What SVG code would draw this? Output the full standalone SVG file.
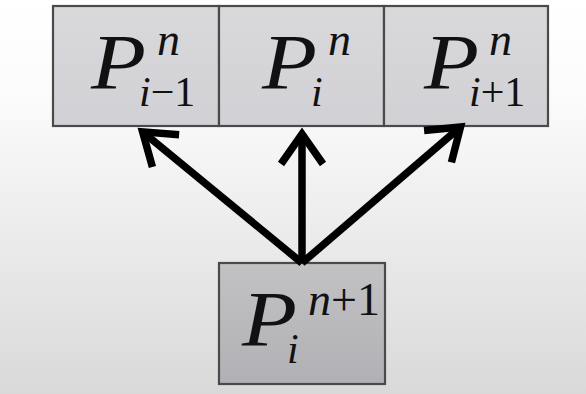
<svg xmlns="http://www.w3.org/2000/svg" width="586" height="394" viewBox="0 0 586 394">
  <defs>
    <linearGradient id="bg" x1="0" y1="0" x2="0" y2="1">
      <stop offset="0" stop-color="#ffffff"/>
      <stop offset="0.25" stop-color="#fbfbfb"/>
      <stop offset="1" stop-color="#d9d9d9"/>
    </linearGradient>
    <linearGradient id="topfill" x1="0" y1="0" x2="0" y2="1">
      <stop offset="0" stop-color="#d9d9dc"/>
      <stop offset="1" stop-color="#d1d1d5"/>
    </linearGradient>
    <linearGradient id="botfill" x1="0" y1="0" x2="0" y2="1">
      <stop offset="0" stop-color="#c2c2c5"/>
      <stop offset="1" stop-color="#b1b1b5"/>
    </linearGradient>
    <marker id="chev" markerUnits="userSpaceOnUse" viewBox="0 0 50 60" markerWidth="50" markerHeight="60" refX="36" refY="30" orient="auto" overflow="visible">
      <path d="M6,9 L36,30 L6,51" fill="none" stroke="#000" stroke-width="7.5" stroke-linejoin="miter"/>
    </marker>
  </defs>
  <style>
    .box { stroke: #4a4a4a; stroke-width: 2.2; }
    .top { fill: url(#topfill); }
    .bot { fill: url(#botfill); }
    .it { font-family: "Liberation Serif", "Times New Roman", serif; font-style: italic; fill: #111; }
    .rm { font-family: "Liberation Serif", "Times New Roman", serif; font-style: normal; fill: #111; }
    .big { font-size: 78px; }
    .sup { font-size: 46px; }
    .sub { font-size: 42px; }
    .arrow { fill: none; stroke: #000; stroke-width: 7.5; marker-end: url(#chev); }
  </style>
  <rect x="0" y="0" width="586" height="394" fill="url(#bg)"/>

  <g id="node-left">
    <rect class="box top" x="53" y="6" width="166" height="120"/>
    <text class="it big" x="91" y="88" textLength="55" lengthAdjust="spacingAndGlyphs">P</text>
    <text class="it sup" x="157" y="55">n</text>
    <text class="sub" x="139" y="106"><tspan class="it">i</tspan><tspan class="rm">−1</tspan></text>
  </g>

  <g id="node-mid">
    <rect class="box top" x="219" y="6" width="165" height="120"/>
    <text class="it big" x="262" y="88" textLength="55" lengthAdjust="spacingAndGlyphs">P</text>
    <text class="it sup" x="328" y="55">n</text>
    <text class="it sub" x="311" y="106">i</text>
  </g>

  <g id="node-right">
    <rect class="box top" x="384" y="6" width="164" height="120"/>
    <text class="it big" x="424" y="88" textLength="55" lengthAdjust="spacingAndGlyphs">P</text>
    <text class="it sup" x="489" y="55">n</text>
    <text class="sub" x="469" y="106"><tspan class="it">i</tspan><tspan class="rm">+1</tspan></text>
  </g>

  <g id="node-bottom">
    <rect class="box bot" x="219" y="263" width="166" height="121"/>
    <text class="it big" x="242" y="345" textLength="55" lengthAdjust="spacingAndGlyphs">P</text>
    <text class="sup" x="308" y="315"><tspan class="it">n</tspan><tspan class="rm">+1</tspan></text>
    <text class="it sub" x="287" y="363">i</text>
  </g>

  <g id="connectors">
    <path class="arrow" d="M302,263 L142.6,131.8"/>
    <path class="arrow" d="M302,263 L302,134"/>
    <path class="arrow" d="M302,263 L460.5,126.9"/>
  </g>
</svg>
